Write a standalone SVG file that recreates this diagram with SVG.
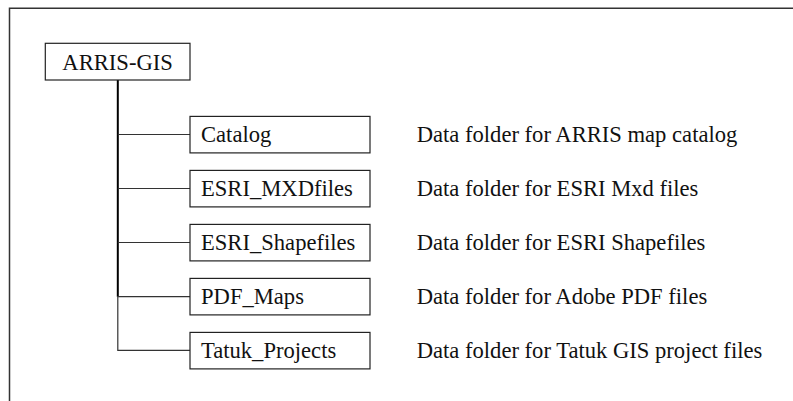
<svg xmlns="http://www.w3.org/2000/svg" width="793" height="401" viewBox="0 0 793 401">
<style>
.box{fill:#fff;stroke:#222;stroke-width:1.2}
.t{font-family:"Liberation Serif","Times New Roman",serif;font-size:22.6px;fill:#111}
.c{stroke:#333;stroke-width:1.2;fill:none}
.frame{stroke:#333;stroke-width:1.5;fill:none}
</style>
<rect width="793" height="401" fill="#fff"/>
<path class="frame" d="M9.5 401 V8.3 H793"/>
<g id="connectors">
<path d="M117.8 80 V296.7" stroke="#000" stroke-width="2" fill="none"/>
<path class="c" d="M117.8 296 V350.4 H190"/>
<path class="c" d="M117.8 134.5 H190 M117.8 188.5 H190 M117.8 242.5 H190 M117.8 296.6 H190"/>
</g>
<g id="root">
<rect class="box" x="45.3" y="43.3" width="144.7" height="36.7"/>
<text class="t" x="117.6" y="70" text-anchor="middle">ARRIS-GIS</text>
</g>
<g id="catalog">
<rect class="box" x="190" y="116.4" width="180" height="36.5"/>
<text class="t" x="201" y="142.3">Catalog</text>
</g>
<g id="mxd">
<rect class="box" x="190" y="170.4" width="180" height="36.5"/>
<text class="t" x="201" y="196.3">ESRI_MXDfiles</text>
</g>
<g id="shp">
<rect class="box" x="190" y="224.4" width="180" height="36.5"/>
<text class="t" x="201" y="250.3">ESRI_Shapefiles</text>
</g>
<g id="pdf">
<rect class="box" x="190" y="278.4" width="180" height="36.5"/>
<text class="t" x="201" y="304.3">PDF_Maps</text>
</g>
<g id="tatuk">
<rect class="box" x="190" y="332.4" width="180" height="36.5"/>
<text class="t" x="201" y="358.3">Tatuk_Projects</text>
</g>
<g id="descriptions">
<text class="t" x="416.7" y="142">Data folder for ARRIS map catalog</text>
<text class="t" x="416.7" y="196">Data folder for ESRI Mxd files</text>
<text class="t" x="416.7" y="250">Data folder for ESRI Shapefiles</text>
<text class="t" x="416.7" y="304">Data folder for Adobe PDF files</text>
<text class="t" x="416.7" y="358">Data folder for Tatuk GIS project files</text>
</g>
</svg>
